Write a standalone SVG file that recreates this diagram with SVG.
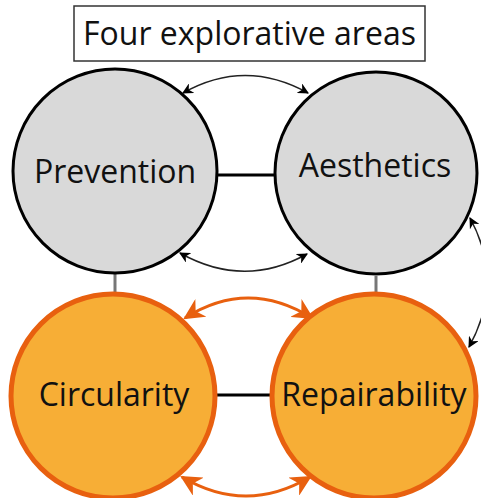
<svg xmlns="http://www.w3.org/2000/svg" width="481" height="498" viewBox="0 0 481 498">
<style>
.lbl{font-family:"Open Sans","Noto Sans",sans-serif;font-size:32px;fill:#111;text-anchor:middle}
.gray{fill:#d9d9d9;stroke:#000;stroke-width:3}
.orange{fill:#f7ae36;stroke:#e8600f;stroke-width:5}
.ab{fill:none;stroke:#222;stroke-width:1.5;marker-start:url(#mb);marker-end:url(#mb)}
.ao{fill:none;stroke:#e8600f;stroke-width:3;marker-start:url(#mo);marker-end:url(#mo)}
</style>
<defs>
<marker id="mb" viewBox="0 0 10 10" refX="9" refY="5" markerWidth="11" markerHeight="11" markerUnits="userSpaceOnUse" orient="auto-start-reverse"><path d="M0,0 L10,5 L0,10 L3,5 Z" fill="#000"/></marker>
<marker id="mo" viewBox="0 0 10 10" refX="9" refY="5" markerWidth="21" markerHeight="21" markerUnits="userSpaceOnUse" orient="auto-start-reverse"><path d="M0,0 L10,5 L0,10 L3,5 Z" fill="#e8600f"/></marker>
</defs>
<g id="title">
<rect x="74" y="6" width="351" height="55" fill="#fff" stroke="#333" stroke-width="1.5"/>
<text class="lbl" x="249.5" y="45">Four explorative areas</text>
</g>
<g id="connectors">
<line x1="217" y1="175" x2="275" y2="175" stroke="#000" stroke-width="3"/>
<line x1="214" y1="395" x2="273" y2="395" stroke="#000" stroke-width="3"/>
<line x1="115" y1="273" x2="115" y2="293" stroke="#777" stroke-width="3"/>
<line x1="376" y1="276" x2="376" y2="293" stroke="#777" stroke-width="3"/>
<path class="ab" d="M183,93 Q245,58 308,93"/>
<path class="ab" d="M180,253 Q244,289 307,254"/>
<path class="ao" d="M185,318 Q248,278 312,318"/>
<path class="ao" d="M182,477 Q246,515 310,477"/>
<path class="ab" d="M470,218 Q505,282 469,347"/>
</g>
<g id="prevention">
<circle class="gray" cx="115" cy="171" r="102"/>
<text class="lbl" x="115" y="183">Prevention</text>
</g>
<g id="aesthetics">
<circle class="gray" cx="376" cy="173" r="101"/>
<text class="lbl" x="375" y="177">Aesthetics</text>
</g>
<g id="circularity">
<circle class="orange" cx="113" cy="396" r="102"/>
<text class="lbl" x="114" y="406">Circularity</text>
</g>
<g id="repairability">
<circle class="orange" cx="374" cy="396" r="102"/>
<text class="lbl" x="374" y="406">Repairability</text>
</g>
</svg>
